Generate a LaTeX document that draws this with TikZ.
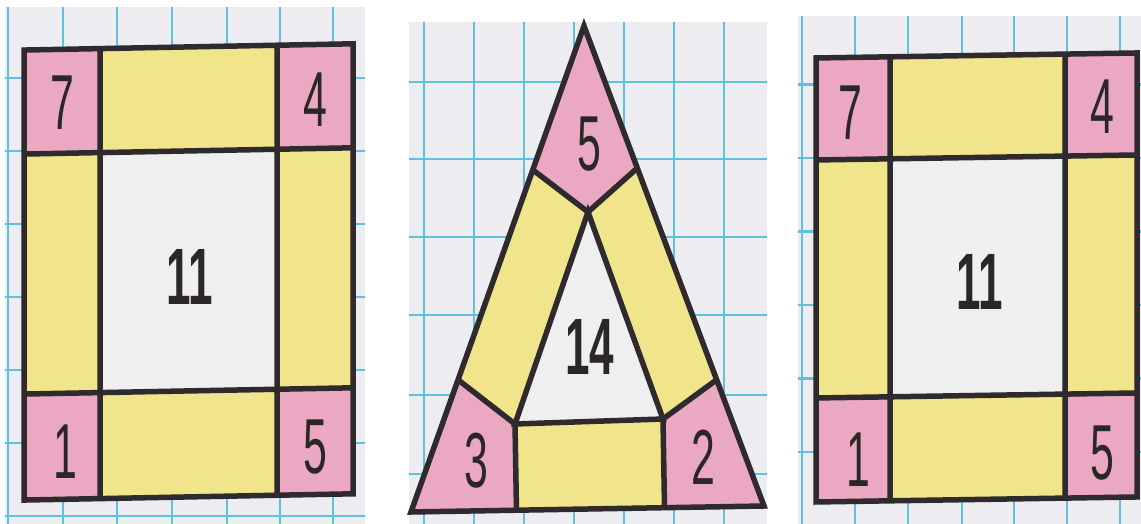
\documentclass[tikz,border=0pt]{standalone}
\usepackage{fontspec}
\usetikzlibrary{calc}
\newfontfamily\digitfont[FakeStretch=0.55]{Liberation Sans}
\definecolor{gridPaper}{HTML}{EDECF1}
\definecolor{gridBlue}{HTML}{5EC2DE}
\definecolor{cellPink}{HTML}{EBA8C2}
\definecolor{cellYellow}{HTML}{F0E58A}
\definecolor{cellWhite}{HTML}{EFEFEF}
\definecolor{frameInk}{HTML}{2E2A2E}
\definecolor{digitInk}{HTML}{2B2628}
\begin{document}
\begin{tikzpicture}[x=1pt,y=-1pt,line cap=butt,line join=miter]
\useasboundingbox (0,0) rectangle (1141,524);
\path[fill=white] (0,0) rectangle (1141,524);
\tikzset{gridline/.style={draw=gridBlue,line width=2.4pt},frame/.style={draw=frameInk,line width=5.5pt},digit/.style={text=digitInk,inner sep=0pt,font=\digitfont\fontsize{78}{78}\selectfont},bigdigit/.style={text=digitInk,inner sep=0pt,font=\digitfont\bfseries\fontsize{80}{80}\selectfont}}
\path[fill=gridPaper] (5,7) rectangle (365,524); \path[fill=gridPaper] (409,22) rectangle (767,524); \path[fill=gridPaper] (798,16) rectangle (1141,524);
\draw[gridline] (8,7) -- (8,524) (63,7) -- (63,524) (117,7) -- (117,524) (172,7) -- (172,524) (227,7) -- (227,524) (280,7) -- (280,524) (333,7) -- (333,524);
\draw[gridline] (5,78) -- (365,78) (5,151) -- (365,151) (5,224) -- (365,224) (5,297) -- (365,297) (5,370) -- (365,370) (5,443) -- (365,443) (5,516) -- (365,516);
\draw[gridline] (424,22) -- (424,524) (474,22) -- (474,524) (524,22) -- (524,524) (574,22) -- (574,524) (624,22) -- (624,524) (674,22) -- (674,524) (724,22) -- (724,524);
\draw[gridline] (409,82) -- (767,82) (409,159) -- (767,159) (409,237) -- (767,237) (409,315) -- (767,315) (409,395) -- (767,395) (409,474) -- (767,474);
\draw[gridline] (802,16) -- (802,524) (855,16) -- (855,524) (908,16) -- (908,524) (962,16) -- (962,524) (1014,16) -- (1014,524) (1067,16) -- (1067,524) (1120,16) -- (1120,524);
\draw[gridline] (798,84.5) -- (1141,84.5) (798,158) -- (1141,158) (798,231.5) -- (1141,231.5) (798,305) -- (1141,305) (798,378.5) -- (1141,378.5) (798,452) -- (1141,452);
\begin{scope}[cm={1,0.019,0,1,(0,0)}]
\path[fill=cellYellow] (24,50.5) rectangle (353,500.5); \path[fill=cellWhite] (100,154.5) rectangle (277,394.5);
\path[fill=cellPink] (24,50.5) rectangle (100,154.5) (277,50.5) rectangle (353,154.5) (24,394.5) rectangle (100,500.5) (277,394.5) rectangle (353,500.5);
\draw[frame] (24,50.5) rectangle (353,500.5) (100,50.5) -- (100,500.5) (277,50.5) -- (277,500.5) (24,154.5) -- (353,154.5) (24,394.5) -- (353,394.5);
\end{scope}
\node[digit] (leftSeven) at (62,103) {7}; \node[digit] (leftFour) at (315,100) {4}; \node[digit] (leftOne) at (65,452) {1}; \node[digit] (leftFive) at (315,447) {5}; \node[bigdigit] (leftCentre) at (190,277) {11};
\coordinate (ta) at (584,26); \coordinate (tl) at (411,512); \coordinate (tr) at (764,506);
\coordinate (ia) at (588,212); \coordinate (il) at (515,424); \coordinate (ir) at (663,419);
\coordinate (cl) at ($(ta)!0.296!(tl)$); \coordinate (cr) at ($(ta)!0.296!(tr)$); \coordinate (ll) at ($(ta)!0.728!(tl)$); \coordinate (rr) at ($(ta)!0.737!(tr)$);
\coordinate (bl) at ($(tl)!(il)!(tr)$); \coordinate (br) at ($(tl)!(ir)!(tr)$);
\path[fill=cellYellow] (ta) -- (tl) -- (tr) -- cycle; \path[fill=cellWhite] (ia) -- (il) -- (ir) -- cycle;
\path[fill=cellPink] (ta) -- (cl) -- (ia) -- (cr) -- cycle (tl) -- (ll) -- (il) -- (bl) -- cycle (tr) -- (rr) -- (ir) -- (br) -- cycle;
\draw[frame] (ta) -- (tl) -- (tr) -- cycle; \draw[frame] (ia) -- (il) -- (ir) -- cycle;
\draw[frame] (cl) -- (ia) -- (cr) (ll) -- (il) -- (bl) (rr) -- (ir) -- (br);
\node[digit] (topFive) at (589,144) {5}; \node[digit] (cornerThree) at (476,461) {3}; \node[digit] (cornerTwo) at (703,457) {2}; \node[bigdigit] (triCentre) at (590,347) {14};
\begin{scope}[cm={1,0.0156,0,1,(0,0)}]
\path[fill=cellYellow] (816,70.7) rectangle (1137,514.7); \path[fill=cellWhite] (890,172.7) rectangle (1065,410.7);
\path[fill=cellPink] (816,70.7) rectangle (890,172.7) (1065,70.7) rectangle (1137,172.7) (816,410.7) rectangle (890,514.7) (1065,410.7) rectangle (1137,514.7);
\draw[frame] (816,70.7) rectangle (1137,514.7) (890,70.7) -- (890,514.7) (1065,70.7) -- (1065,514.7) (816,172.7) -- (1137,172.7) (816,410.7) -- (1137,410.7);
\end{scope}
\node[digit] (rightSeven) at (850,113) {7}; \node[digit] (rightFour) at (1102,107) {4}; \node[digit] (rightOne) at (858,460) {1}; \node[digit] (rightFive) at (1102,453) {5}; \node[bigdigit] (rightCentre) at (980,282) {11};
\end{tikzpicture}
\end{document}
